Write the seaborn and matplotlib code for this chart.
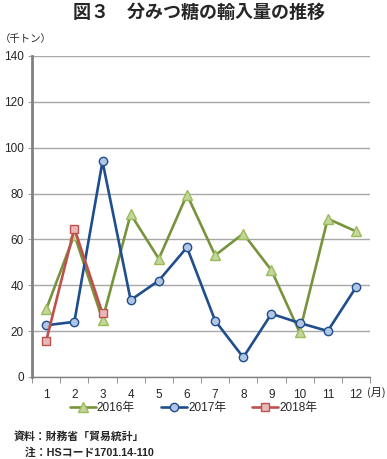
import numpy as np
import pandas as pd
import matplotlib
matplotlib.use('Agg')
import matplotlib.pyplot as plt
import seaborn as sns
from matplotlib.ticker import MultipleLocator

# Data (thousand tons)
months = list(range(1, 13))
imports_2016 = [29.5, 62, 25, 71, 51.5, 79.5, 53, 62.5, 46.5, 19.5, 69, 63.5]
imports_2017 = [22.5, 24, 94, 33.5, 42, 56.5, 24.5, 8.5, 27.5, 23.5, 20, 39]
imports_2018 = [15.7, 64.7, 27.7] + [np.nan] * 9
series_labels = ['2016年', '2017年', '2018年']
y_ticks = [0, 20, 40, 60, 80, 100, 120, 140]

df = pd.DataFrame({
    'month': months,
    '2016年': imports_2016,
    '2017年': imports_2017,
    '2018年': imports_2018,
})

sns.set_style('white')
plt.rcParams['font.family'] = ['Liberation Sans', 'Noto Sans CJK JP', 'DejaVu Sans']

fig = plt.figure(figsize=(3.87, 4.59), dpi=100)
ax = fig.add_axes([0.083, 0.179, 0.873, 0.699])

styles = {
    '2016年': dict(color='#77933C', marker='^', mfc='#C3D69B', mec='#9BBB59', ms=6.5),
    '2017年': dict(color='#1F4E8C', marker='o', mfc='#B0C6E4', mec='#1F4E8C', ms=6),
    '2018年': dict(color='#C0504D', marker='s', mfc='#E6B9B8', mec='#C0504D', ms=6),
}

for name in series_labels:
    st = styles[name]
    sns.lineplot(data=df, x='month', y=name, ax=ax, color=st['color'], linewidth=1.9,
                 marker=st['marker'], markerfacecolor=st['mfc'],
                 markeredgecolor=st['mec'], markersize=st['ms'],
                 markeredgewidth=1, label=name)

ax.set_xlim(0.5, 12.5)
ax.set_ylim(0, 140)
ax.set_xticks(months)
ax.set_xticklabels([str(m) for m in months])
ax.xaxis.set_minor_locator(MultipleLocator(1, offset=0.5))
ax.tick_params(axis='x', which='major', length=0, pad=9, labelsize=8.5)
ax.tick_params(axis='x', which='minor', length=4, color='#808080', direction='out', bottom=True)
ax.set_yticks(y_ticks)
ax.tick_params(axis='y', length=3, color='#A0A0A0', labelsize=8.5, pad=3, left=True)
ax.yaxis.grid(True, color='#A8A8A8', linewidth=1)
ax.set_axisbelow(True)

for s in ['top', 'right']:
    ax.spines[s].set_visible(False)
ax.spines['left'].set_color('#808080')
ax.spines['left'].set_linewidth(2)
ax.spines['bottom'].set_color('#808080')
ax.spines['bottom'].set_linewidth(1)
ax.set_xlabel('')
ax.set_ylabel('')

ax.legend(loc='center', bbox_to_anchor=(0.5, 0.111), bbox_transform=fig.transFigure,
          ncol=3, frameon=False, fontsize=8.5, handlelength=2.2, columnspacing=2.2,
          handletextpad=0.1)

fig.text(0.515, 0.972, '図３　分みつ糖の輸入量の推移', ha='center', va='center',
         fontsize=13, fontweight='bold', family=['Noto Sans CJK JP'])
fig.text(0.0, 0.915, '（千トン）', ha='left', va='center', fontsize=7.5,
         family=['Noto Sans CJK JP'])
fig.text(0.997, 0.146, '(月)', ha='right', va='center', fontsize=8,
         family=['Noto Sans CJK JP'])
fig.text(0.036, 0.048, '資料：財務省「貿易統計」', ha='left', va='center',
         fontsize=7.8, fontweight='bold', family=['Noto Sans CJK JP'])
fig.text(0.036, 0.015, '　注：HSコード1701.14-110', ha='left', va='center',
         fontsize=7.8, fontweight='bold')

fig.savefig('out.png', dpi=100)
